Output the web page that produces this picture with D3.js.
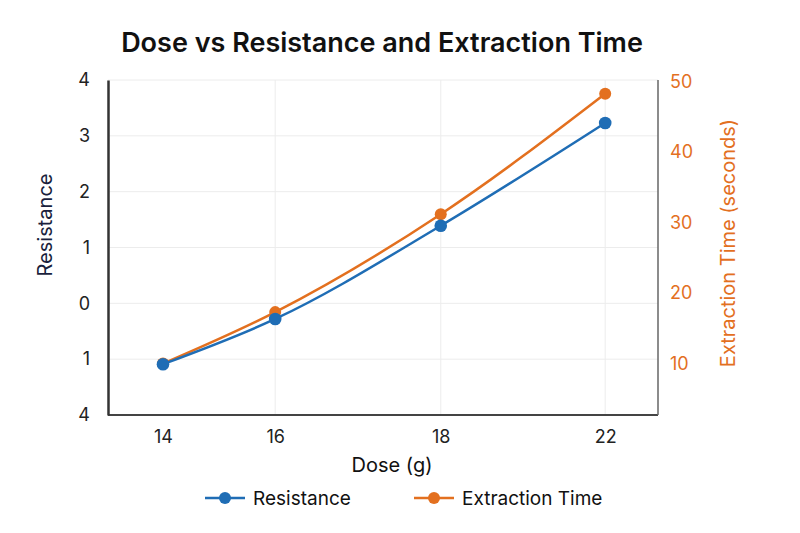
<!DOCTYPE html>
<html>
<head>
<meta charset="utf-8">
<script src="https://cdn.jsdelivr.net/npm/d3@7"></script>
<style>
  body { margin: 0; background: #fff; }
  svg { font-family: Inter, "Noto Sans", sans-serif; }
</style>
</head>
<body>
<div id="chart"></div>
<script>
// data
const doses = [14, 16, 18, 22];
const resistance = [-1.09, -0.28, 1.39, 3.23];
const extractionTime = [10.0, 17.3, 31.2, 48.3];
const leftTickValues = [4, 3, 2, 1, 0, -1, -2];
const leftTickLabels = ["4", "3", "2", "1", "0", "1", "4"];
const rightTicks = [10, 20, 30, 40, 50];

const width = 800, height = 533;
const margin = { top: 80, right: 142, bottom: 118, left: 108 };
const innerW = width - margin.left - margin.right;

const blue = "#1f6db5";
const orange = "#e3701f";
const font = "Inter, sans-serif";

const svg = d3.select("#chart").append("svg")
    .attr("width", width)
    .attr("height", height);

// dose axis is not evenly spaced in the original, so use a piecewise scale
const x = d3.scaleLinear()
    .domain(doses)
    .range([0.1, 0.304, 0.605, 0.904].map(f => margin.left + f * innerW));

const yL = d3.scaleLinear()
    .domain([-2, 4])
    .range([height - margin.bottom, margin.top]);

const yR = d3.scaleLinear()
    .domain([2.7, 50])
    .range([height - margin.bottom, margin.top + 1.7]);

// grid
svg.append("g")
    .selectAll("line")
    .data(leftTickValues.slice(0, -1))
    .join("line")
    .attr("x1", margin.left).attr("x2", width - margin.right)
    .attr("y1", d => yL(d)).attr("y2", d => yL(d))
    .attr("stroke", "#ececec").attr("stroke-width", 1);

svg.append("g")
    .selectAll("line")
    .data(doses.slice(1))
    .join("line")
    .attr("x1", d => x(d)).attr("x2", d => x(d))
    .attr("y1", margin.top).attr("y2", height - margin.bottom)
    .attr("stroke", "#ececec").attr("stroke-width", 1);

// axes
const gx = svg.append("g")
    .attr("transform", `translate(0,${height - margin.bottom})`)
    .call(d3.axisBottom(x).tickValues(doses).tickSize(0).tickPadding(15).tickFormat(d3.format("d")));
gx.select(".domain").attr("stroke", "#444").attr("stroke-width", 2)
    .attr("d", `M${margin.left},0H${width - margin.right}`);
gx.selectAll("text").attr("font-size", 18).attr("fill", "#222").attr("font-family", font);

const gy = svg.append("g")
    .attr("transform", `translate(${margin.left},0)`)
    .call(d3.axisLeft(yL).tickValues(leftTickValues).tickSize(0).tickPadding(18)
        .tickFormat((d, i) => leftTickLabels[i]));
gy.select(".domain").attr("stroke", "#333").attr("stroke-width", 2.5);
gy.selectAll("text").attr("font-size", 18).attr("fill", "#222").attr("font-family", font);

const gr = svg.append("g")
    .attr("transform", `translate(${width - margin.right},0)`)
    .call(d3.axisRight(yR).tickValues(rightTicks).tickSize(0).tickPadding(12));
gr.select(".domain").attr("stroke", "#666").attr("stroke-width", 1.5)
    .attr("d", `M0,${margin.top}V${height - margin.bottom}`);
gr.selectAll("text").attr("font-size", 18).attr("fill", orange).attr("font-family", font);

// lines
const lineR = d3.line()
    .x((d, i) => x(doses[i]))
    .y(d => yL(d))
    .curve(d3.curveMonotoneX);

const lineE = d3.line()
    .x((d, i) => x(doses[i]))
    .y(d => yR(d))
    .curve(d3.curveMonotoneX);

svg.append("path")
    .datum(extractionTime)
    .attr("fill", "none")
    .attr("stroke", orange)
    .attr("stroke-width", 2.5)
    .attr("d", lineE);

svg.append("g")
    .selectAll("circle")
    .data(extractionTime)
    .join("circle")
    .attr("cx", (d, i) => x(doses[i]))
    .attr("cy", d => yR(d))
    .attr("r", 6)
    .attr("fill", orange);

svg.append("path")
    .datum(resistance)
    .attr("fill", "none")
    .attr("stroke", blue)
    .attr("stroke-width", 2.5)
    .attr("d", lineR);

svg.append("g")
    .selectAll("circle")
    .data(resistance)
    .join("circle")
    .attr("cx", (d, i) => x(doses[i]))
    .attr("cy", d => yL(d))
    .attr("r", 6.3)
    .attr("fill", blue);

// title and labels
svg.append("text")
    .attr("x", 382).attr("y", 52)
    .attr("text-anchor", "middle")
    .attr("font-size", 27).attr("font-weight", 600)
    .attr("fill", "#111")
    .text("Dose vs Resistance and Extraction Time");

svg.append("text")
    .attr("transform", "translate(52,225) rotate(-90)")
    .attr("text-anchor", "middle")
    .attr("font-size", 20).attr("fill", "#1a1f3d")
    .text("Resistance");

svg.append("text")
    .attr("transform", "translate(735,243) rotate(-90)")
    .attr("text-anchor", "middle")
    .attr("font-size", 20).attr("fill", orange)
    .text("Extraction Time (seconds)");

svg.append("text")
    .attr("x", 392).attr("y", 472)
    .attr("text-anchor", "middle")
    .attr("font-size", 20).attr("fill", "#111")
    .text("Dose (g)");

// legend
const legendItems = [
    { name: "Resistance", color: blue, x: 205 },
    { name: "Extraction Time", color: orange, x: 414 }
];
const lg = svg.append("g").selectAll("g")
    .data(legendItems)
    .join("g")
    .attr("transform", d => `translate(${d.x},498)`);
lg.append("line").attr("x1", 0).attr("x2", 40)
    .attr("stroke", d => d.color).attr("stroke-width", 2.5);
lg.append("circle").attr("cx", 20).attr("r", 6).attr("fill", d => d.color);
lg.append("text").attr("x", 48).attr("y", 7)
    .attr("font-size", 19).attr("fill", "#111")
    .text(d => d.name);
</script>
</body>
</html>
